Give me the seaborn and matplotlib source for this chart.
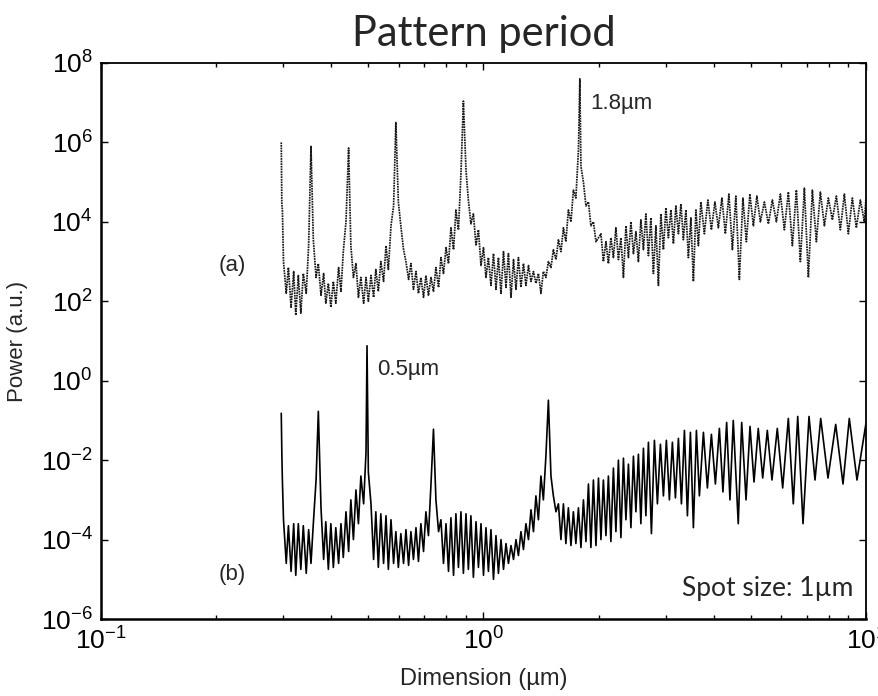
import numpy as np
import seaborn as sns
import matplotlib.pyplot as plt
from matplotlib.ticker import LogLocator, NullLocator, LogFormatterSciNotation

# --- Data (period in um, log10 of power) ---
period_a = [
    0.296, 0.297, 0.298, 0.300, 0.305, 0.309, 0.314, 0.319, 0.323, 0.328,
    0.333, 0.338, 0.344, 0.349, 0.354, 0.359, 0.365, 0.370, 0.376, 0.382,
    0.387, 0.393, 0.399, 0.405, 0.411, 0.418, 0.424, 0.430, 0.437, 0.444,
    0.450, 0.457, 0.464, 0.471, 0.478, 0.486, 0.493, 0.500, 0.508, 0.516,
    0.523, 0.531, 0.539, 0.548, 0.556, 0.564, 0.573, 0.582, 0.590, 0.599,
    0.608, 0.618, 0.627, 0.637, 0.646, 0.656, 0.666, 0.676, 0.686, 0.697,
    0.707, 0.718, 0.729, 0.740, 0.751, 0.763, 0.774, 0.786, 0.798, 0.810,
    0.822, 0.835, 0.847, 0.860, 0.873, 0.886, 0.900, 0.913, 0.927, 0.941,
    0.956, 0.970, 0.985, 1.000, 1.015, 1.030, 1.046, 1.062, 1.078, 1.094,
    1.111, 1.128, 1.145, 1.162, 1.180, 1.198, 1.216, 1.234, 1.253, 1.272,
    1.291, 1.311, 1.331, 1.351, 1.371, 1.392, 1.413, 1.434, 1.456, 1.478,
    1.501, 1.523, 1.547, 1.570, 1.594, 1.618, 1.642, 1.667, 1.693, 1.718,
    1.744, 1.771, 1.786, 1.798, 1.825, 1.853, 1.881, 1.909, 1.938, 1.968,
    1.998, 2.028, 2.058, 2.090, 2.121, 2.153, 2.186, 2.219, 2.253, 2.287,
    2.322, 2.357, 2.393, 2.429, 2.466, 2.503, 2.541, 2.579, 2.619, 2.658,
    2.699, 2.739, 2.781, 2.823, 2.866, 2.909, 2.954, 2.998, 3.044, 3.090,
    3.137, 3.184, 3.233, 3.282, 3.331, 3.382, 3.433, 3.485, 3.538, 3.592,
    3.646, 3.701, 3.780, 3.860, 3.943, 4.027, 4.112, 4.200, 4.289, 4.381,
    4.474, 4.569, 4.666, 4.766, 4.867, 4.971, 5.077, 5.185, 5.295, 5.424,
    5.557, 5.692, 5.831, 5.973, 6.118, 6.267, 6.420, 6.577, 6.737, 6.901,
    7.069, 7.241, 7.418, 7.598, 7.784, 7.973, 8.168, 8.367, 8.570, 8.779,
    8.993, 9.212, 9.437, 9.667, 9.902, 10.0,
]
logpow_a = [
    6.0, 4.45, 4.3, 3.0, 2.2, 2.85, 1.85, 2.75, 1.65, 2.65,
    1.7, 2.7, 2.2, 3.4, 5.9, 3.55, 2.6, 2.95, 2.15, 2.7,
    1.95, 2.45, 1.85, 2.5, 1.95, 2.85, 2.25, 3.25, 4.0, 5.86,
    3.4, 2.6, 2.95, 2.1, 2.6, 1.95, 2.6, 2.0, 2.65, 2.1,
    2.8, 2.25, 3.0, 2.5, 3.4, 2.8, 3.9, 4.4, 6.5, 4.5,
    3.9, 3.3, 3.0, 2.55, 2.95, 2.3, 2.75, 2.2, 2.6, 2.1,
    2.65, 2.15, 2.6, 2.25, 2.85, 2.35, 3.1, 2.7, 3.35, 2.95,
    3.85, 3.3, 4.3, 3.8, 5.2, 7.04, 5.3, 4.55, 3.95, 4.2,
    3.4, 3.8, 2.9, 3.35, 2.6, 3.1, 2.4, 3.2, 2.3, 3.1,
    2.2, 3.25, 2.35, 3.2, 2.1, 3.05, 2.3, 3.1, 2.35, 2.95,
    2.4, 2.9, 2.5, 2.75, 2.45, 2.7, 2.2, 2.75, 2.6, 3.0,
    2.85, 3.3, 3.05, 3.55, 3.25, 3.85, 3.5, 4.3, 4.0, 4.8,
    4.6, 5.8, 7.6, 5.4, 5.0, 4.4, 4.5, 3.9, 4.0, 3.5,
    3.6, 3.7, 3.0, 3.5, 2.95, 3.6, 3.1, 3.85, 3.05, 3.6,
    2.6, 3.9, 3.1, 4.0, 3.2, 3.75, 3.0, 4.05, 3.3, 4.2,
    3.15, 4.1, 2.7, 3.9, 2.4, 4.2, 3.3, 4.35, 3.6, 4.3,
    3.45, 4.4, 3.7, 4.45, 3.55, 4.3, 3.1, 4.1, 2.5, 4.3,
    3.4, 4.5, 3.7, 4.55, 3.8, 4.5, 3.85, 4.6, 3.7, 4.7,
    3.3, 4.65, 2.55, 4.6, 3.5, 4.7, 3.9, 4.65, 4.0, 4.5,
    3.95, 4.55, 4.0, 4.7, 3.8, 4.75, 3.4, 4.8, 3.0, 4.85,
    2.6, 4.8, 3.5, 4.75, 3.9, 4.6, 4.05, 4.65, 3.8, 4.7,
    3.7, 4.6, 3.85, 4.55, 4.0, 4.6,
]

period_b = [
    0.296, 0.297, 0.298, 0.300, 0.305, 0.309, 0.314, 0.319, 0.323, 0.328,
    0.333, 0.338, 0.344, 0.349, 0.354, 0.359, 0.365, 0.370, 0.376, 0.382,
    0.387, 0.393, 0.399, 0.405, 0.411, 0.418, 0.424, 0.430, 0.437, 0.444,
    0.450, 0.457, 0.464, 0.471, 0.478, 0.486, 0.493, 0.496, 0.500, 0.508,
    0.516, 0.523, 0.531, 0.539, 0.548, 0.556, 0.564, 0.573, 0.582, 0.590,
    0.599, 0.608, 0.618, 0.627, 0.637, 0.646, 0.656, 0.666, 0.676, 0.686,
    0.697, 0.707, 0.718, 0.729, 0.740, 0.751, 0.763, 0.774, 0.786, 0.798,
    0.810, 0.822, 0.835, 0.847, 0.860, 0.873, 0.886, 0.900, 0.913, 0.927,
    0.941, 0.956, 0.970, 0.985, 1.000, 1.015, 1.030, 1.046, 1.062, 1.078,
    1.094, 1.111, 1.128, 1.145, 1.162, 1.180, 1.198, 1.216, 1.234, 1.253,
    1.272, 1.291, 1.311, 1.331, 1.351, 1.371, 1.392, 1.413, 1.434, 1.456,
    1.478, 1.501, 1.523, 1.547, 1.570, 1.594, 1.618, 1.642, 1.667, 1.693,
    1.718, 1.744, 1.771, 1.798, 1.825, 1.853, 1.881, 1.909, 1.938, 1.968,
    1.998, 2.028, 2.058, 2.090, 2.121, 2.153, 2.186, 2.219, 2.253, 2.287,
    2.322, 2.357, 2.393, 2.429, 2.466, 2.503, 2.541, 2.579, 2.619, 2.658,
    2.699, 2.748, 2.798, 2.849, 2.901, 2.954, 3.007, 3.062, 3.118, 3.175,
    3.233, 3.292, 3.352, 3.413, 3.475, 3.538, 3.603, 3.668, 3.758, 3.849,
    3.943, 4.039, 4.137, 4.227, 4.322, 4.409, 4.498, 4.635, 4.732, 4.857,
    4.975, 5.096, 5.228, 5.370, 5.521, 5.678, 5.863, 6.056, 6.266, 6.456,
    6.630, 6.845, 7.096, 7.357, 7.614, 7.955, 8.333, 8.708, 9.044, 9.473,
    10.0,
]
logpow_b = [
    -0.82, -1.8, -2.5, -3.5, -4.6, -3.65, -4.8, -3.6, -4.9, -3.6,
    -4.75, -3.65, -4.85, -3.75, -4.6, -3.6, -2.5, -0.77, -3.2, -4.5,
    -3.55, -4.75, -3.6, -4.7, -3.7, -4.6, -3.6, -4.45, -3.3, -4.3,
    -3.0, -4.0, -2.75, -3.6, -2.4, -3.1, -1.8, 0.88, -2.3, -3.1,
    -4.5, -3.3, -4.7, -3.35, -4.6, -3.4, -4.75, -3.5, -4.6, -3.8,
    -4.7, -3.85, -4.6, -3.75, -4.65, -3.8, -4.5, -3.7, -4.55, -3.6,
    -4.3, -3.3, -3.9, -2.6, -1.22, -3.0, -3.8, -3.5, -4.6, -3.6,
    -4.8, -3.45, -4.9, -3.35, -4.7, -3.3, -4.85, -3.35, -4.75, -3.4,
    -4.95, -3.55, -4.7, -3.6, -4.9, -3.7, -4.8, -3.75, -5.0, -3.9,
    -4.85, -4.0, -4.75, -4.1, -4.6, -4.15, -4.5, -4.0, -4.4, -3.8,
    -4.25, -3.6, -4.0, -3.25, -3.8, -2.9, -3.5, -2.4, -3.0, -1.9,
    -0.49, -2.4, -2.9, -3.3, -3.1, -4.0, -3.1, -4.1, -3.2, -4.15,
    -3.3, -4.1, -3.2, -4.2, -3.0, -4.05, -2.6, -4.2, -2.5, -4.15,
    -2.45, -4.0, -2.5, -3.9, -2.4, -4.05, -2.2, -3.8, -2.0, -3.95,
    -1.95, -3.5, -2.1, -3.7, -1.9, -3.3, -1.85, -3.6, -1.7, -3.4,
    -1.55, -3.85, -1.5, -3.1, -1.6, -2.9, -1.5, -3.0, -1.55, -2.95,
    -1.45, -3.1, -1.25, -3.4, -1.3, -3.7, -1.25, -2.9, -1.3, -2.7,
    -1.35, -2.6, -1.2, -2.8, -1.05, -3.0, -1.0, -3.6, -1.05, -3.0,
    -1.15, -2.55, -1.2, -2.45, -1.25, -2.5, -1.2, -2.7, -0.95, -3.1,
    -0.9, -3.6, -0.9, -2.5, -0.95, -2.45, -1.1, -2.6, -0.95, -2.5,
    -1.07,
]

ytick_vals = [1e-6, 1e-4, 1e-2, 1e0, 1e2, 1e4, 1e6, 1e8]

power_a = 10.0 ** np.array(logpow_a)
power_b = 10.0 ** np.array(logpow_b)

# --- Style ---
sns.set_theme(style="ticks")
plt.rcParams['font.family'] = ['Liberation Sans', 'DejaVu Sans']
plt.rcParams['mathtext.default'] = 'regular'
plt.rcParams['axes.unicode_minus'] = False

fig = plt.figure(figsize=(8.79, 6.96), dpi=100)
ax = fig.add_axes([0.1149, 0.1106, 0.8703, 0.7989])

# (a) dotted dark trace, (b) solid black trace
sns.lineplot(x=period_a, y=power_a, ax=ax, estimator=None, sort=False,
             color="#1a1a1a", linewidth=1.25, linestyle=(0, (1.0, 0.5)))
sns.lineplot(x=period_b, y=power_b, ax=ax, estimator=None, sort=False,
             color="black", linewidth=1.2)

ax.set_xscale("log")
ax.set_yscale("log")
ax.set_xlim(0.1, 10)
ax.set_ylim(1e-6, 1e8)

ax.xaxis.set_major_locator(LogLocator(base=10, numticks=5))
ax.xaxis.set_minor_locator(LogLocator(base=10, subs=np.arange(2, 10), numticks=20))
ax.set_yticks(ytick_vals)
ax.yaxis.set_minor_locator(NullLocator())
ax.xaxis.set_major_formatter(LogFormatterSciNotation())
ax.yaxis.set_major_formatter(LogFormatterSciNotation())

ax.tick_params(which="both", direction="in", top=True, right=True,
               colors="black", labelsize=19, width=1.0)
ax.tick_params(which="major", length=5, pad=6)
ax.tick_params(which="minor", length=3)
for side in ["left", "bottom"]:
    ax.spines[side].set_color("black")
    ax.spines[side].set_linewidth(1.8)
for side in ["top", "right"]:
    ax.spines[side].set_color("black")
    ax.spines[side].set_linewidth(1.3)

ax.set_title("Pattern period", fontsize=30, family=["Lato", "DejaVu Sans"], pad=12)
ax.set_xlabel("Dimension (µm)", fontsize=17,
              family=["Liberation Sans Narrow", "Liberation Sans"])
ax.set_ylabel("Power (a.u.)", fontsize=16)
ax.xaxis.set_label_coords(0.5, -0.088)
ax.yaxis.set_label_coords(-0.095, 0.5)

# annotations
ax.text(0.22, 10 ** 2.9, "(a)", fontsize=16, ha="center", va="center")
ax.text(0.22, 10 ** -4.87, "(b)", fontsize=16, ha="center", va="center")
ax.text(1.898, 10 ** 6.97, "1.8µm", fontsize=16, ha="left", va="center")
ax.text(0.527, 10 ** 0.27, "0.5µm", fontsize=16, ha="left", va="center")
ax.text(0.983, 0.054, "Spot size: 1µm", transform=ax.transAxes, fontsize=19,
        family=["Lato", "DejaVu Sans"], ha="right", va="center")

plt.savefig("out.png", dpi=100)
